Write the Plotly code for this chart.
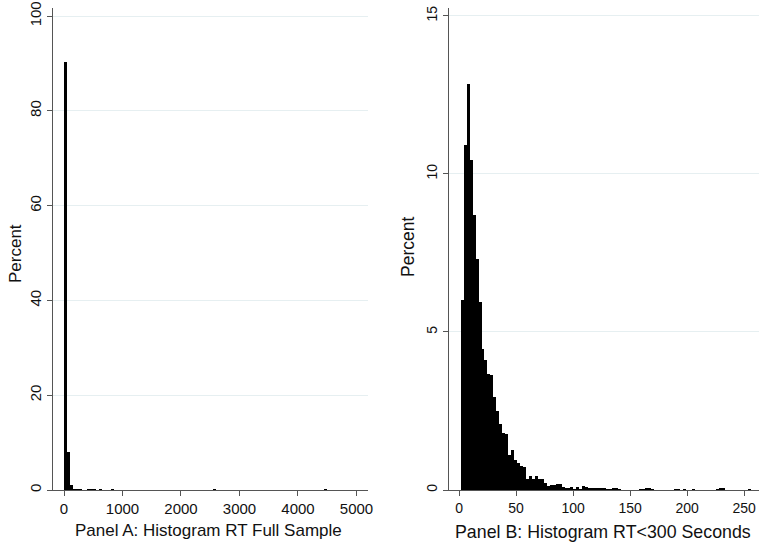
import numpy as np
import plotly.graph_objects as go

# ---------------- Data ----------------
# Panel A: histogram of RT, full sample (bin width 50 s, starting at 0)
a_bin_start = 0.0
a_bin_width = 50.0
a_pct = [90.4, 8.1, 1.05, 0.15, 0.12, 0.05, 0.0, 0.0, 0.08, 0.08,
         0.08, 0.0, 0.06, 0.0, 0.0, 0.0, 0.05] + [0.0] * 34 + [0.04] + [0.0] * 37 + [0.03]

# Panel B: histogram of RT < 300 seconds
b_bin_start = 1.5
b_bin_width = 2.6
b_pct = [6.0, 10.9, 12.85, 10.45, 8.7, 7.3, 5.95, 4.47, 4.1, 3.66,
         3.64, 2.94, 2.5, 2.1, 1.8, 1.78, 1.1, 1.27, 0.94, 0.85,
         0.75, 0.74, 0.35, 0.44, 0.34, 0.44, 0.34, 0.36, 0.23, 0.13,
         0.16, 0.17, 0.19, 0.19, 0.08, 0.04, 0.06, 0.08, 0.02, 0.1,
         0.03, 0.12, 0.08, 0.07, 0.06, 0.07, 0.07, 0.06, 0.05, 0.03,
         0.02, 0.07, 0.06, 0.02, 0.0, 0.0, 0.0, 0.0, 0.0, 0.0,
         0.02, 0.03, 0.07, 0.06, 0.02, 0.0, 0.0, 0.0, 0.0, 0.0,
         0.0, 0.0, 0.03, 0.03, 0.0, 0.03, 0.0, 0.0, 0.03, 0.0,
         0.0, 0.0, 0.0, 0.0, 0.0, 0.0, 0.03, 0.06, 0.06, 0.0,
         0.0, 0.0, 0.0, 0.0, 0.0, 0.0, 0.0, 0.03, 0.0, 0.0]

a_xticks = [0, 1000, 2000, 3000, 4000, 5000]
a_yticks = [0, 20, 40, 60, 80, 100]
b_xticks = [0, 50, 100, 150, 200, 250]
b_yticks = [0, 5, 10, 15]

a_xtitle = "Panel A: Histogram RT Full Sample"
b_xtitle = "Panel B: Histogram RT<300 Seconds"
ytitle = "Percent"

# ---------------- Figure ----------------
W, H = 760, 549
FONT = "Liberation Sans, Arial, sans-serif"
GRID = "#e6eff1"
AXIS = "#555555"
TXT = "#111111"


def fx(px):
    return px / W


def fy(py):
    return (H - py) / H


a_centers = a_bin_start + a_bin_width * (np.arange(len(a_pct)) + 0.5)
b_centers = b_bin_start + b_bin_width * (np.arange(len(b_pct)) + 0.5)

fig = go.Figure()
fig.add_trace(go.Bar(x=a_centers, y=a_pct, width=a_bin_width,
                     marker=dict(color="black", line=dict(width=0)),
                     xaxis="x", yaxis="y", showlegend=False))
fig.add_trace(go.Bar(x=b_centers, y=b_pct, width=b_bin_width,
                     marker=dict(color="black", line=dict(width=0)),
                     xaxis="x2", yaxis="y2", showlegend=False))

ydom = [fy(490), fy(8)]


def xaxis_style(size):
    return dict(showgrid=False, zeroline=False, showline=True, linecolor=AXIS,
                linewidth=1, ticks="outside", ticklen=5, tickcolor=AXIS,
                automargin=False, ticklabeloverflow="allow",
                tickfont=dict(family=FONT, size=size, color=TXT))


def yaxis_style(size):
    return dict(showgrid=True, gridcolor=GRID, gridwidth=1, zeroline=False,
                showline=True, linecolor=AXIS, linewidth=1, ticks="outside",
                ticklen=5, tickcolor=AXIS, tickangle=-90, automargin=False,
                ticklabeloverflow="allow",
                tickfont=dict(family=FONT, size=size, color=TXT))


fig.update_layout(
    width=W, height=H,
    autosize=False,
    margin=dict(l=0, r=0, t=0, b=0, pad=0, autoexpand=False),
    paper_bgcolor="white", plot_bgcolor="white",
    bargap=0,
    xaxis=dict(domain=[fx(53), fx(368)], range=[-188, 5197],
               tickvals=a_xticks, anchor="y", **xaxis_style(15)),
    yaxis=dict(domain=ydom, range=[0, 101.7], tickvals=a_yticks,
               anchor="x", **yaxis_style(15)),
    xaxis2=dict(domain=[fx(449), fx(759)], range=[-8.8, 263],
                tickvals=b_xticks, anchor="y2", **xaxis_style(14)),
    yaxis2=dict(domain=ydom, range=[0, 15.25], tickvals=b_yticks,
                anchor="x2", **yaxis_style(14)),
    annotations=[
        dict(text=a_xtitle, x=fx(208), y=fy(530), xref="paper", yref="paper",
             xanchor="center", yanchor="middle", showarrow=False,
             font=dict(family=FONT, size=17, color=TXT)),
        dict(text=b_xtitle, x=fx(603), y=fy(532), xref="paper", yref="paper",
             xanchor="center", yanchor="middle", showarrow=False,
             font=dict(family=FONT, size=17.8, color=TXT)),
        dict(text=ytitle, x=fx(15), y=fy(254), xref="paper", yref="paper",
             xanchor="center", yanchor="middle", showarrow=False, textangle=-90,
             font=dict(family=FONT, size=17, color=TXT)),
        dict(text=ytitle, x=fx(408), y=fy(247), xref="paper", yref="paper",
             xanchor="center", yanchor="middle", showarrow=False, textangle=-90,
             font=dict(family=FONT, size=17.5, color=TXT)),
    ],
)

# remove the browser's default body margin so the figure sits at the page origin
fig.write_html("out.html", config={"displayModeBar": False},
               post_script="document.body.style.margin='0';")
